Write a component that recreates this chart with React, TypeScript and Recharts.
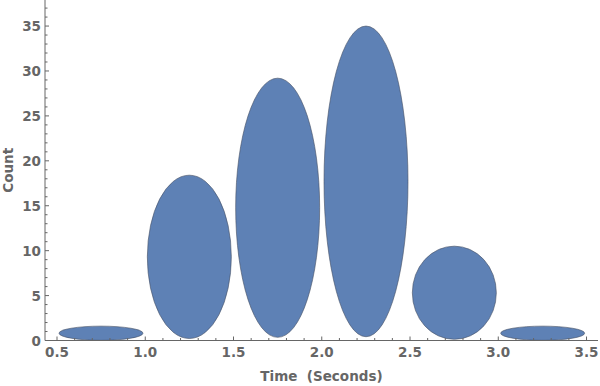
import React from 'react';
import { BarChart, Bar, XAxis, YAxis } from 'recharts';

// histogram bins (seconds) and counts
const binLabels = ['0.5-1.0', '1.0-1.5', '1.5-2.0', '2.0-2.5', '2.5-3.0', '3.0-3.5'];
const binMids = [0.75, 1.25, 1.75, 2.25, 2.75, 3.25];
const counts = [1.6, 18.4, 29.2, 35, 10.5, 1.6];

const xTicks = [
  0.5, 0.6, 0.7, 0.8, 0.9, 1.0, 1.1, 1.2, 1.3, 1.4, 1.5, 1.6, 1.7, 1.8, 1.9, 2.0,
  2.1, 2.2, 2.3, 2.4, 2.5, 2.6, 2.7, 2.8, 2.9, 3.0, 3.1, 3.2, 3.3, 3.4, 3.5,
];
const yTicks = [
  0, 1, 2, 3, 4, 5, 6, 7, 8, 9, 10, 11, 12, 13, 14, 15, 16, 17, 18, 19,
  20, 21, 22, 23, 24, 25, 26, 27, 28, 29, 30, 31, 32, 33, 34, 35, 36, 37,
];

const rows = binLabels.map((bin, i) => ({ bin, mid: binMids[i], count: counts[i] }));

const AXIS = '#666666';
const FONT = "'DejaVu Sans', sans-serif";
const FS = 13.5;

const XTick = ({ x, y, payload }: any) => {
  const v = payload.value;
  const major = Math.round(v * 10) % 5 === 0;
  return (
    <g>
      <line x1={x} x2={x} y1={y} y2={y - (major ? 4 : 2.5)} stroke={AXIS} strokeWidth={1} />
      {major && (
        <text x={x} y={y + 16.5} textAnchor="middle" fill={AXIS} fontSize={FS} fontWeight="bold" fontFamily={FONT}>
          {v.toFixed(1)}
        </text>
      )}
    </g>
  );
};

const YTick = ({ x, y, payload }: any) => {
  const v = payload.value;
  const major = v % 5 === 0;
  return (
    <g>
      <line x1={x} x2={x + (major ? 4 : 2.5)} y1={y} y2={y} stroke={AXIS} strokeWidth={1} />
      {major && (
        <text x={x - 4} y={y + 5} textAnchor="end" fill={AXIS} fontSize={FS} fontWeight="bold" fontFamily={FONT}>
          {v}
        </text>
      )}
    </g>
  );
};

const XLabel = ({ viewBox }: any) => (
  <text
    x={viewBox.x + viewBox.width / 2}
    y={viewBox.y + 40.5}
    textAnchor="middle"
    fill={AXIS}
    fontSize={FS}
    fontWeight="bold"
    fontFamily={FONT}
    style={{ whiteSpace: 'pre' }}
  >
    Time  (Seconds)
  </text>
);

const YLabel = ({ viewBox }: any) => {
  const cx = 13;
  const cy = viewBox.y + viewBox.height / 2;
  return (
    <text
      x={cx}
      y={cy}
      transform={`rotate(-90 ${cx} ${cy})`}
      textAnchor="middle"
      fill={AXIS}
      fontSize={FS}
      fontWeight="bold"
      fontFamily={FONT}
    >
      Count
    </text>
  );
};

// ellipse inscribed in each histogram bar
const EllipseBar = (props: any) => {
  const { x, y, width, height } = props;
  if (!height || height <= 0) return null;
  const bottom = y + height - height * 0.012;
  const cx = x + width / 2;
  const cy = (y + bottom) / 2;
  const rx = width / 2 - 2;
  const ry = (bottom - y) / 2;
  return (
    <ellipse cx={cx} cy={cy} rx={rx} ry={ry} fill="#5e81b5" stroke="rgba(70,80,100,0.6)" strokeWidth={1} />
  );
};

export default function App() {
  return (
    <div style={{ position: 'absolute', left: 0, top: 0 }}>
      <BarChart
        width={600}
        height={386}
        data={rows}
        margin={{ top: 0, right: 2, bottom: 0, left: 0 }}
        barCategoryGap={0}
      >
        <XAxis
          xAxisId="bins"
          dataKey="bin"
          type="category"
          orientation="top"
          hide
          height={0}
          padding={{ left: 12, right: 11 }}
        />
        <XAxis
          xAxisId="time"
          dataKey="mid"
          type="number"
          domain={[0.432, 3.565]}
          allowDataOverflow
          ticks={xTicks}
          interval={0}
          height={45.5}
          tickSize={0}
          tickMargin={0}
          tickLine={false}
          tick={<XTick />}
          stroke={AXIS}
          label={<XLabel />}
        />
        <YAxis
          type="number"
          domain={[0, 37.9]}
          allowDataOverflow
          ticks={yTicks}
          interval={0}
          width={45}
          tickSize={0}
          tickMargin={0}
          tickLine={false}
          tick={<YTick />}
          stroke={AXIS}
          label={<YLabel />}
        />
        <Bar xAxisId="bins" dataKey="count" shape={<EllipseBar />} isAnimationActive={false} />
      </BarChart>
    </div>
  );
}
